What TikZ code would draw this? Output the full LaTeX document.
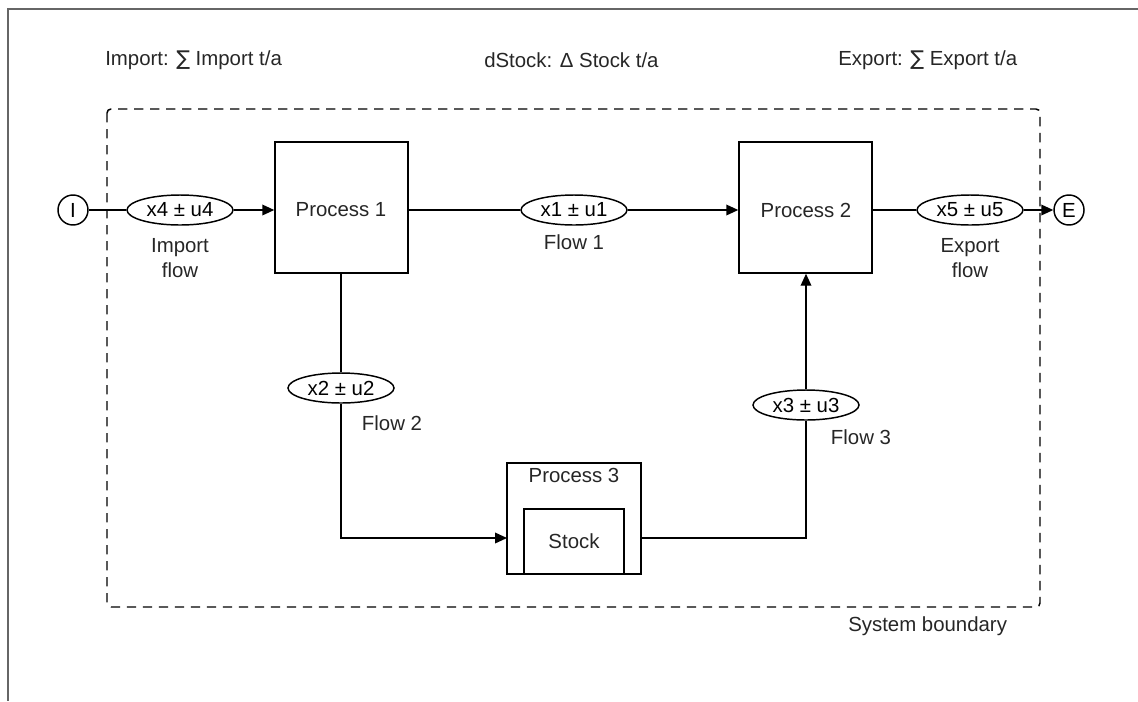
\documentclass[tikz,border=0pt]{standalone}
\usepackage{fontspec}
\setmainfont{Liberation Sans}
\newfontfamily\symfont{DejaVu Sans}
\usetikzlibrary{shapes.geometric,arrows.meta,calc}
\begin{document}
\begin{tikzpicture}[x=0.75pt,y=-0.75pt,
  txt/.style={font=\fontsize{15.3pt}{18.4pt}\selectfont, text=black!85, inner sep=0pt},
  flowell/.style={draw, ellipse, line width=1.1pt, fill=white, minimum width=79.5pt, minimum height=22.5pt, inner sep=0pt, font=\fontsize{15.3pt}{18pt}\selectfont},
  procbox/.style={draw, rectangle, line width=1.1pt, minimum width=99.75pt, minimum height=98.25pt, inner sep=0pt},
  term/.style={draw, circle, line width=1.1pt, minimum size=22.5pt, inner sep=0pt, font=\fontsize{15.3pt}{18pt}\selectfont},
  conn/.style={line width=1.1pt},
  arr/.style={line width=1.1pt, -{Triangle[length=9pt,width=8pt]}}
]
\useasboundingbox (0,0) rectangle (1138,701);
% page frame
\draw[black!60, line width=0.8pt] (1138,9) -- (8,9) -- (8,701);

% header texts
\node[txt, anchor=west] (himp) at (105,60) {Import: {\symfont ∑} Import t/a};
\node[txt, anchor=west] (hst) at (484,60) {dStock: Δ Stock t/a};
\node[txt, anchor=west] (hexp) at (838,60) {Export: {\symfont ∑} Export t/a};

% system boundary
\draw[dashed, dash pattern=on 7pt off 5pt, line width=1.1pt, rounded corners=3pt] (107,109) rectangle (1040,607);
\node[txt, anchor=west] (sb) at (848,626) {System boundary};

% processes
\node[procbox] (P1) at (341.5,207.5) {};
\node[txt] (P1t) at (341,210) {Process 1};
\node[procbox] (P2) at (805.5,207.5) {};
\node[txt] (P2t) at (806,210) {Process 2};
\node[procbox, minimum width=100.5pt, minimum height=83.25pt] (P3) at (574,518.5) {};
\node[txt] (P3t) at (574,475) {Process 3};
\draw[line width=1.1pt] (524,574) -- (524,509) -- (624,509) -- (624,574);
\node[txt] (St) at (574,541) {Stock};
\coordinate (p3in) at (507,538);
\coordinate (p3out) at (641,538);

% terminals
\node[term] (I) at (73,210) {I};
\node[term] (E) at (1069,210) {E};

% flow ellipses
\node[flowell] (e4) at (180,210) {x4 ± u4};
\node[flowell] (e1) at (574,210) {x1 ± u1};
\node[flowell] (e5) at (970,210) {x5 ± u5};
\node[flowell] (e2) at (341,388) {x2 ± u2};
\node[flowell] (e3) at (806,405) {x3 ± u3};

% flow labels
\node[txt, align=center] (l4) at (180,258) {Import\\flow};
\node[txt] (l1) at (574,242) {Flow 1};
\node[txt, align=center] (l5) at (970,258) {Export\\flow};
\node[txt] (l2) at (392,423) {Flow 2};
\node[txt] (l3) at (861,437) {Flow 3};

% connectors
\draw[conn] (I) -- (e4);
\draw[arr] (e4.east) -- (P1.west |- e4);
\draw[conn] (P1.east |- e1) -- (e1.west);
\draw[arr] (e1.east) -- (P2.west |- e1);
\draw[conn] (P2.east |- e5) -- (e5.west);
\draw[arr] (e5.east) -- (E.west);
\draw[conn] (P1.south -| e2) -- (e2.north);
\draw[arr] (e2.south) |- (p3in);
\draw[conn] (p3out) -| (e3.south);
\draw[arr] (e3.north) -- (P2.south -| e3);
\end{tikzpicture}
\end{document}
